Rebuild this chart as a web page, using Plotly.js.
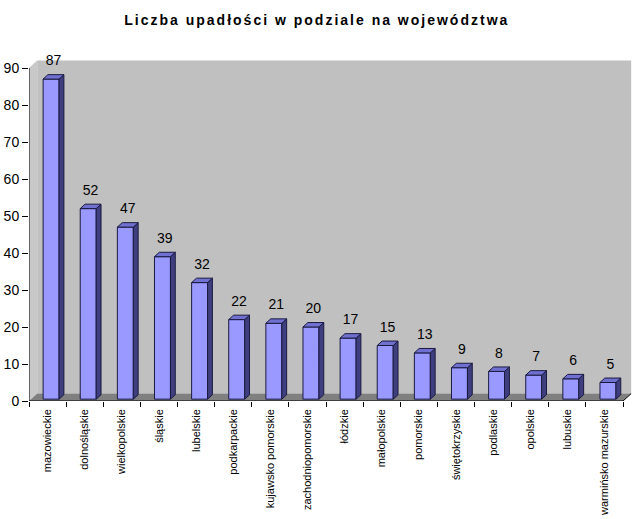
<!DOCTYPE html>
<html>
<head>
<meta charset="utf-8">
<script src="https://cdn.plot.ly/plotly-3.0.1.min.js"></script>
<style>
  body { margin: 0; background: #fff; }
  #chart { width: 640px; height: 519px; }
  /* the original title is widely letter-spaced */
  #chart .gtitle { letter-spacing: 2px; }
</style>
</head>
<body>
<div id="chart"></div>
<script>
// voivodeships and number of bankruptcies
var regions = ["mazowieckie", "dolnośląskie", "wielkopolskie", "śląskie", "lubelskie",
  "podkarpackie", "kujawsko pomorskie", "zachodniopomorskie", "łódzkie", "małopolskie",
  "pomorskie", "świętokrzyskie", "podlaskie", "opolskie", "lubuskie", "warmińsko mazurskie"];
var counts = [87, 52, 47, 39, 32, 22, 21, 20, 17, 15, 13, 9, 8, 7, 6, 5];
var yTicks = [0, 10, 20, 30, 40, 50, 60, 70, 80, 90];

// fake 3d look (Excel style)
var f0 = -0.12, f1 = 0.31;   // front face, relative to category
var dx = 0.13, dy = 1.2;     // bar depth
var base = 0.5;
var wdx = 0.22, wdy = 2.0;   // wall / floor depth
var n = regions.length;
var idx = regions.map((r, i) => i);

var fx = [], fy = [], sx = [], sy = [], tx = [], ty = [];
counts.forEach(function(v, i) {
  fx.push(i+f0, i+f1, i+f1, i+f0, i+f0, null);
  fy.push(base, base, v, v, base, null);
  sx.push(i+f1, i+f1+dx, i+f1+dx, i+f1, i+f1, null);
  sy.push(base, base+dy, v+dy, v, base, null);
  tx.push(i+f0, i+f1, i+f1+dx, i+f0+dx, i+f0, null);
  ty.push(v, v, v+dy, v+dy, v, null);
});

function face(x, y, color) {
  return {
    x: x, y: y, type: 'scatter', mode: 'lines', fill: 'toself',
    fillcolor: color, line: {color: '#1a1a40', width: 1},
    hoverinfo: 'skip', showlegend: false
  };
}

var data = [
  face(fx, fy, '#9999ff'),
  face(sx, sy, '#3f3f80'),
  face(tx, ty, '#7070d0'),
  {
    x: idx.map(i => i + (f0+f1)/2 + dx/2),
    y: counts.map(v => v + dy + 1.6),
    text: counts.map(String),
    type: 'scatter', mode: 'text', textposition: 'top center', cliponaxis: false,
    textfont: {family: 'Liberation Sans, Arial', size: 14, color: '#000'},
    hoverinfo: 'skip', showlegend: false
  }
];

var L = -0.5, R = n - 0.5;
var shapes = [
  // back wall
  {type: 'path', xref: 'x', yref: 'y', layer: 'below',
   path: 'M' + (L+wdx) + ',' + wdy + ' L' + (R+wdx) + ',' + wdy + ' L' + (R+wdx) + ',' + (90+wdy) +
         ' L' + (L+wdx) + ',' + (90+wdy) + ' Z',
   fillcolor: '#c0c0c0', line: {width: 0}},
  // left wall
  {type: 'path', xref: 'x', yref: 'y', layer: 'below',
   path: 'M' + L + ',0 L' + (L+wdx) + ',' + wdy + ' L' + (L+wdx) + ',' + (90+wdy) + ' L' + L + ',90 Z',
   fillcolor: '#c8c8c8', line: {width: 0}},
  // floor
  {type: 'path', xref: 'x', yref: 'y', layer: 'below',
   path: 'M' + L + ',0 L' + R + ',0 L' + (R+wdx) + ',' + wdy + ' L' + (L+wdx) + ',' + wdy + ' Z',
   fillcolor: '#808080', line: {width: 0}},
  // axis lines
  {type: 'line', xref: 'x', yref: 'y', x0: L, x1: L, y0: 0, y1: 90, line: {color: '#000', width: 1}},
  {type: 'line', xref: 'x', yref: 'y', x0: L, x1: R, y0: 0, y1: 0, line: {color: '#000', width: 1}},
  {type: 'line', xref: 'x', yref: 'y', x0: R, x1: R+wdx, y0: 0, y1: wdy, line: {color: '#000', width: 1}}
];

var layout = {
  width: 640, height: 519,
  margin: {l: 29, r: 4, t: 56, b: 118},
  paper_bgcolor: '#fff', plot_bgcolor: 'rgba(0,0,0,0)',
  font: {family: 'Liberation Sans, Arial', color: '#000'},
  title: {
    text: 'Liczba upadłości w podziale na województwa',
    font: {family: 'Liberation Sans, Arial', size: 14, color: '#000', weight: 'bold'},
    x: 0.495, xanchor: 'center', y: 0.962, yanchor: 'middle'
  },
  xaxis: {
    range: [L, L + 607/37.125],
    tickmode: 'array', tickvals: idx, ticktext: regions,
    tickangle: -90, ticks: '', showgrid: false, zeroline: false, showline: false,
    ticklabelstandoff: 5,
    tickfont: {size: 11, color: '#000'},
    minor: {tickmode: 'array', tickvals: idx.map(i => i - 0.5).concat([R]),
            ticks: 'outside', ticklen: 5, tickcolor: '#000', tickwidth: 1, showgrid: false},
    fixedrange: true
  },
  yaxis: {
    range: [0, 345/3.7],
    tickmode: 'array', tickvals: yTicks,
    ticks: 'outside', ticklen: 6, tickcolor: '#000',
    showgrid: false, zeroline: false, showline: false,
    tickfont: {size: 14, color: '#000'},
    fixedrange: true
  },
  shapes: shapes
};

Plotly.newPlot('chart', data, layout, {displayModeBar: false, staticPlot: true});
</script>
</body>
</html>
